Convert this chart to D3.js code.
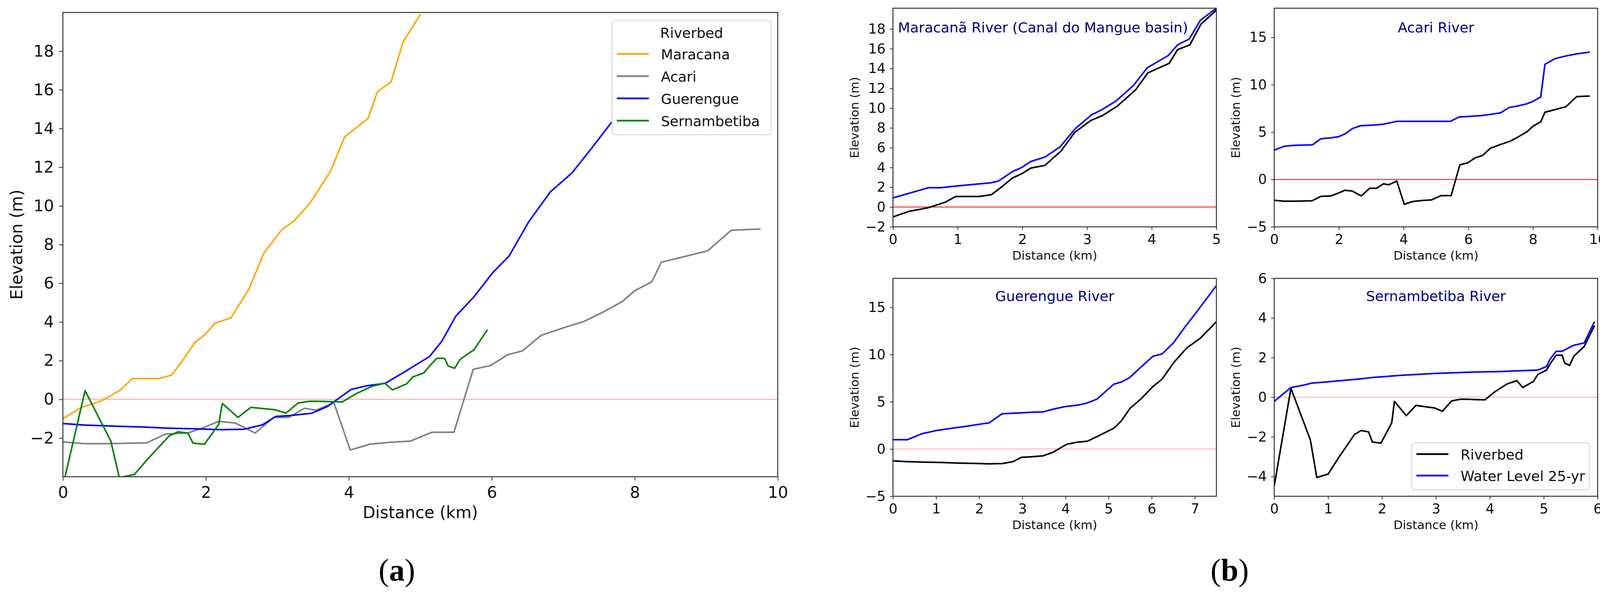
<!DOCTYPE html>
<html>
<head>
<meta charset="utf-8">
<script src="https://cdn.jsdelivr.net/npm/d3@7"></script>
<style>
  html, body { margin: 0; padding: 0; background: #fff; overflow: hidden; }
  svg { display: block; }
</style>
</head>
<body>
<div id="chart"></div>
<script>
// Riverbed and 25-yr water level profiles (distance in km, elevation in m)
const maracanaKm = [0, 0.25, 0.53, 0.63, 0.81, 0.97, 1.33, 1.52, 1.66, 1.85, 1.99, 2.13, 2.35, 2.48, 2.6, 2.81, 3.06, 3.24, 3.46, 3.75, 3.94, 4.27, 4.4, 4.59, 4.76, 5.0];
const maracanaBed = [-1.0, -0.43, -0.09, 0.11, 0.5, 1.07, 1.07, 1.25, 1.93, 2.95, 3.36, 3.94, 4.21, 4.98, 5.68, 7.55, 8.76, 9.25, 10.16, 11.84, 13.56, 14.53, 15.91, 16.4, 18.48, 19.9];
const maracanaWlKm = [0, 0.55, 0.74, 0.99, 1.23, 1.51, 1.63, 1.85, 1.99, 2.13, 2.35, 2.58, 2.82, 3.07, 3.22, 3.45, 3.72, 3.93, 4.26, 4.4, 4.58, 4.75, 5.0];
const maracanaWl = [0.93, 1.96, 1.96, 2.13, 2.28, 2.45, 2.63, 3.6, 4.0, 4.6, 5.06, 6.06, 7.94, 9.32, 9.81, 10.73, 12.31, 14.07, 15.34, 16.4, 16.98, 18.86, 20.1];

const acariKm = [0, 0.3, 0.65, 1.17, 1.44, 1.75, 1.98, 2.18, 2.41, 2.69, 2.95, 3.16, 3.38, 3.54, 3.79, 4.02, 4.29, 4.57, 4.86, 5.16, 5.47, 5.74, 5.98, 6.22, 6.43, 6.69, 7.02, 7.29, 7.55, 7.83, 8.0, 8.24, 8.37, 8.68, 9.02, 9.35, 9.59, 9.76];
const acariBed = [-2.2, -2.29, -2.29, -2.25, -1.79, -1.74, -1.44, -1.14, -1.22, -1.74, -0.93, -0.93, -0.46, -0.56, -0.17, -2.62, -2.32, -2.22, -2.16, -1.7, -1.7, 1.55, 1.75, 2.3, 2.51, 3.31, 3.72, 4.03, 4.5, 5.07, 5.62, 6.08, 7.09, 7.37, 7.68, 8.74, 8.78, 8.8];
const acariWlKm = [0, 0.32, 0.62, 1.18, 1.44, 1.72, 1.99, 2.2, 2.42, 2.67, 2.93, 3.13, 3.36, 3.78, 4.01, 5.45, 5.71, 6.41, 6.69, 7.0, 7.27, 7.54, 7.79, 7.99, 8.24, 8.37, 8.68, 9.02, 9.35, 9.76];
const acariWl = [3.1, 3.51, 3.6, 3.65, 4.29, 4.38, 4.51, 4.83, 5.38, 5.67, 5.71, 5.75, 5.82, 6.13, 6.13, 6.13, 6.59, 6.74, 6.87, 7.03, 7.6, 7.76, 7.96, 8.22, 8.7, 12.15, 12.75, 13.03, 13.25, 13.44];

const guerengueKm = [0, 0.31, 0.69, 1.13, 1.5, 1.94, 2.23, 2.54, 2.79, 2.98, 3.17, 3.48, 3.7, 4.03, 4.26, 4.51, 4.77, 5.13, 5.3, 5.5, 5.75, 6.02, 6.24, 6.52, 6.82, 7.12, 7.4, 7.68];
const guerengueBed = [-1.25, -1.33, -1.38, -1.43, -1.49, -1.53, -1.57, -1.54, -1.32, -0.88, -0.84, -0.72, -0.37, 0.51, 0.71, 0.83, 1.4, 2.22, 3.0, 4.32, 5.3, 6.58, 7.4, 9.2, 10.73, 11.7, 13.0, 14.35];
const guerengueWlKm = [0, 0.33, 0.67, 1.01, 1.38, 1.69, 2.0, 2.23, 2.53, 3.04, 3.25, 3.48, 3.77, 4.03, 4.29, 4.49, 4.73, 5.12, 5.28, 5.48, 5.74, 6.03, 6.24, 6.5, 6.78, 7.04, 7.5];
const guerengueWl = [0.99, 0.98, 1.62, 1.96, 2.21, 2.4, 2.62, 2.77, 3.73, 3.84, 3.91, 3.93, 4.28, 4.52, 4.65, 4.85, 5.28, 6.86, 7.07, 7.53, 8.63, 9.83, 10.06, 11.22, 12.97, 14.5, 17.3];

const sernKm = [0, 0.31, 0.67, 0.79, 1.0, 1.19, 1.49, 1.61, 1.75, 1.82, 1.98, 2.18, 2.23, 2.45, 2.63, 2.86, 2.97, 3.12, 3.29, 3.45, 3.57, 3.75, 3.91, 4.09, 4.32, 4.5, 4.61, 4.81, 4.89, 5.05, 5.14, 5.23, 5.34, 5.39, 5.48, 5.56, 5.75, 5.94];
const sernBed = [-4.48, 0.45, -2.15, -4.05, -3.88, -3.07, -1.88, -1.68, -1.75, -2.26, -2.32, -1.29, -0.21, -0.93, -0.41, -0.5, -0.54, -0.71, -0.19, -0.1, -0.1, -0.12, -0.13, 0.27, 0.67, 0.84, 0.49, 0.8, 1.15, 1.37, 1.77, 2.12, 2.12, 1.72, 1.61, 2.08, 2.56, 3.61];
const sernWlKm = [0, 0.31, 0.56, 0.69, 1.01, 1.61, 1.83, 2.38, 2.97, 3.57, 4.2, 4.89, 5.05, 5.12, 5.23, 5.34, 5.55, 5.75, 5.94];
const sernWl = [-0.21, 0.49, 0.62, 0.71, 0.78, 0.93, 1.0, 1.11, 1.2, 1.26, 1.3, 1.37, 1.55, 1.93, 2.32, 2.32, 2.62, 2.74, 3.81];

// labels
const riverNames = ['Maracana', 'Acari', 'Guerengue', 'Sernambetiba'];
const riverColors = ['#FFA500', '#808080', '#0000FF', '#008000'];
const subTitles = ['Maracanã River (Canal do Mangue basin)', 'Acari River', 'Guerengue River', 'Sernambetiba River'];
const profileNames = ['Riverbed', 'Water Level 25-yr'];

const FONT = 'DejaVu Sans, sans-serif';
const W = 4137;
const H = 1529;
const fmt = d3.format('d');

const svg = d3.select('#chart').append('svg').attr('width', W).attr('height', H);
svg.append('rect').attr('width', W).attr('height', H).attr('fill', '#fff');

let clipCount = 0;

function makeAxes(o) {
  const x = d3.scaleLinear().domain(o.xDomain).range([o.left, o.right]);
  const y = d3.scaleLinear().domain(o.yDomain).range([o.bottom, o.top]);
  const clipId = 'clip' + clipCount++;
  svg.append('clipPath').attr('id', clipId)
    .append('rect')
    .attr('x', o.left).attr('y', o.top)
    .attr('width', o.right - o.left).attr('height', o.bottom - o.top);

  const plot = svg.append('g').attr('clip-path', `url(#${clipId})`);

  plot.append('line')
    .attr('x1', o.left).attr('x2', o.right)
    .attr('y1', y(0)).attr('y2', y(0))
    .attr('stroke', 'red')
    .attr('stroke-opacity', o.zeroOpacity)
    .attr('stroke-width', o.zeroWidth);

  const line = d3.line().x(d => x(d[0])).y(d => y(d[1]));
  o.series.forEach(s => {
    plot.append('path')
      .datum(d3.zip(s.x, s.y))
      .attr('d', line)
      .attr('fill', 'none')
      .attr('stroke', s.color)
      .attr('stroke-width', o.lineWidth)
      .attr('stroke-linejoin', 'round');
  });

  const xAxis = d3.axisBottom(x)
    .tickValues(o.xTicks)
    .tickFormat(fmt)
    .tickSize(o.tickLen)
    .tickSizeOuter(0)
    .tickPadding(o.xPad);
  const yAxis = d3.axisLeft(y)
    .tickValues(o.yTicks)
    .tickFormat(fmt)
    .tickSize(o.tickLen)
    .tickSizeOuter(0)
    .tickPadding(o.yPad);

  [
    svg.append('g').attr('transform', `translate(0,${o.bottom})`).call(xAxis),
    svg.append('g').attr('transform', `translate(${o.left},0)`).call(yAxis),
  ].forEach(g => {
    g.select('.domain').remove();
    g.attr('font-family', FONT).attr('font-size', o.tickFont).attr('color', '#111');
    g.selectAll('.tick line').attr('stroke-width', 2).attr('stroke', '#333');
  });

  svg.append('rect')
    .attr('x', o.left).attr('y', o.top)
    .attr('width', o.right - o.left).attr('height', o.bottom - o.top)
    .attr('fill', 'none')
    .attr('stroke', '#333')
    .attr('stroke-width', 2.5);

  svg.append('text')
    .attr('x', (o.left + o.right) / 2)
    .attr('y', o.bottom + o.xLabelOffset)
    .attr('text-anchor', 'middle')
    .attr('font-family', FONT)
    .attr('font-size', o.labelFont)
    .attr('fill', '#111')
    .text('Distance (km)');

  svg.append('text')
    .attr('transform', `translate(${o.left - o.yLabelOffset},${(o.top + o.bottom) / 2}) rotate(-90)`)
    .attr('text-anchor', 'middle')
    .attr('font-family', FONT)
    .attr('font-size', o.labelFont)
    .attr('fill', '#111')
    .text('Elevation (m)');

  return { x, y };
}

function legendBox(box, title, names, colors, opts) {
  const g = svg.append('g');
  g.append('rect')
    .attr('x', box.x).attr('y', box.y)
    .attr('width', box.w).attr('height', box.h)
    .attr('rx', 8)
    .attr('fill', '#fff').attr('fill-opacity', 0.85)
    .attr('stroke', '#d8d8d8').attr('stroke-width', 2.5);
  const top = box.y + opts.firstRow;
  if (title) {
    g.append('text')
      .attr('x', box.x + box.w / 2)
      .attr('y', box.y + opts.titleBase)
      .attr('text-anchor', 'middle')
      .attr('font-family', FONT)
      .attr('font-size', opts.font)
      .attr('fill', '#111')
      .text(title);
  }
  names.forEach((n, i) => {
    const cy = top + i * opts.rowGap;
    g.append('line')
      .attr('x1', box.x + 12).attr('x2', box.x + 94)
      .attr('y1', cy).attr('y2', cy)
      .attr('stroke', colors[i]).attr('stroke-width', 4.5);
    g.append('text')
      .attr('x', box.x + 125)
      .attr('y', cy + 14)
      .attr('font-family', FONT)
      .attr('font-size', opts.font)
      .attr('fill', '#111')
      .text(n);
  });
}

// ---- panel (a): all riverbeds
makeAxes({
  left: 161, right: 1991, top: 32, bottom: 1221,
  xDomain: [0, 10], yDomain: [-4, 20],
  xTicks: [0, 2, 4, 6, 8, 10], yTicks: [-2, 0, 2, 4, 6, 8, 10, 12, 14, 16, 18],
  tickLen: 10, xPad: 15, yPad: 13, tickFont: 41, labelFont: 42,
  xLabelOffset: 106, yLabelOffset: 104,
  zeroOpacity: 0.25, zeroWidth: 3.5, lineWidth: 4,
  series: [
    { x: maracanaKm, y: maracanaBed, color: riverColors[0] },
    { x: acariKm, y: acariBed, color: riverColors[1] },
    { x: guerengueKm, y: guerengueBed, color: riverColors[2] },
    { x: sernKm, y: sernBed, color: riverColors[3] },
  ],
});
legendBox({ x: 1567, y: 52, w: 407, h: 293 }, 'Riverbed', riverNames, riverColors,
  { font: 36, titleBase: 45, firstRow: 86, rowGap: 57 });

// ---- panel (b): one river per subplot
const small = {
  tickLen: 8, xPad: 11, yPad: 11, tickFont: 35, labelFont: 31,
  xLabelOffset: 84, yLabelOffset: 88, lineWidth: 4,
};
const subplots = [
  { left: 2286, right: 3114, top: 21, bottom: 581, xDomain: [0, 5], yDomain: [-2, 20.1],
    xTicks: [0, 1, 2, 3, 4, 5], yTicks: d3.range(-2, 19, 2),
    zeroOpacity: 1, zeroWidth: 2,
    bed: [maracanaKm, maracanaBed], wl: [maracanaWlKm, maracanaWl], titleX: 2670, titleY: 83 },
  { left: 3262, right: 4090, top: 21, bottom: 581, xDomain: [0, 10], yDomain: [-5, 18.07],
    xTicks: [0, 2, 4, 6, 8, 10], yTicks: [-5, 0, 5, 10, 15],
    zeroOpacity: 1, zeroWidth: 2,
    bed: [acariKm, acariBed], wl: [acariWlKm, acariWl], titleX: 3676, titleY: 83 },
  { left: 2286, right: 3114, top: 713, bottom: 1271, xDomain: [0, 7.5], yDomain: [-5, 18.06],
    xTicks: [0, 1, 2, 3, 4, 5, 6, 7], yTicks: [-5, 0, 5, 10, 15],
    zeroOpacity: 0.25, zeroWidth: 3,
    bed: [guerengueKm, guerengueBed], wl: [guerengueWlKm, guerengueWl], titleX: 2700, titleY: 771 },
  { left: 3262, right: 4090, top: 713, bottom: 1271, xDomain: [0, 6], yDomain: [-5, 6],
    xTicks: [0, 1, 2, 3, 4, 5, 6], yTicks: [-4, -2, 0, 2, 4, 6],
    zeroOpacity: 0.25, zeroWidth: 3,
    bed: [sernKm, sernBed], wl: [sernWlKm, sernWl], titleX: 3676, titleY: 771 },
];

subplots.forEach((p, i) => {
  makeAxes(Object.assign({}, small, p, {
    series: [
      { x: p.bed[0], y: p.bed[1], color: '#000' },
      { x: p.wl[0], y: p.wl[1], color: '#0000FF' },
    ],
  }));
  svg.append('text')
    .attr('x', p.titleX).attr('y', p.titleY)
    .attr('text-anchor', 'middle')
    .attr('font-family', FONT)
    .attr('font-size', 36)
    .attr('fill', '#00008B')
    .text(subTitles[i]);
});

legendBox({ x: 3614, y: 1134, w: 455, h: 120 }, null, profileNames, ['#000', '#0000FF'],
  { font: 36, firstRow: 29, rowGap: 55 });

// ---- panel letters
[['a', 1016], ['b', 3148]].forEach(([letter, cx]) => {
  const t = svg.append('text')
    .attr('x', cx).attr('y', 1487)
    .attr('text-anchor', 'middle')
    .attr('font-family', 'Liberation Serif, serif')
    .attr('font-size', 80)
    .attr('fill', '#000');
  t.append('tspan').text('(');
  t.append('tspan').attr('font-weight', 'bold').text(letter);
  t.append('tspan').text(')');
});
</script>
</body>
</html>
